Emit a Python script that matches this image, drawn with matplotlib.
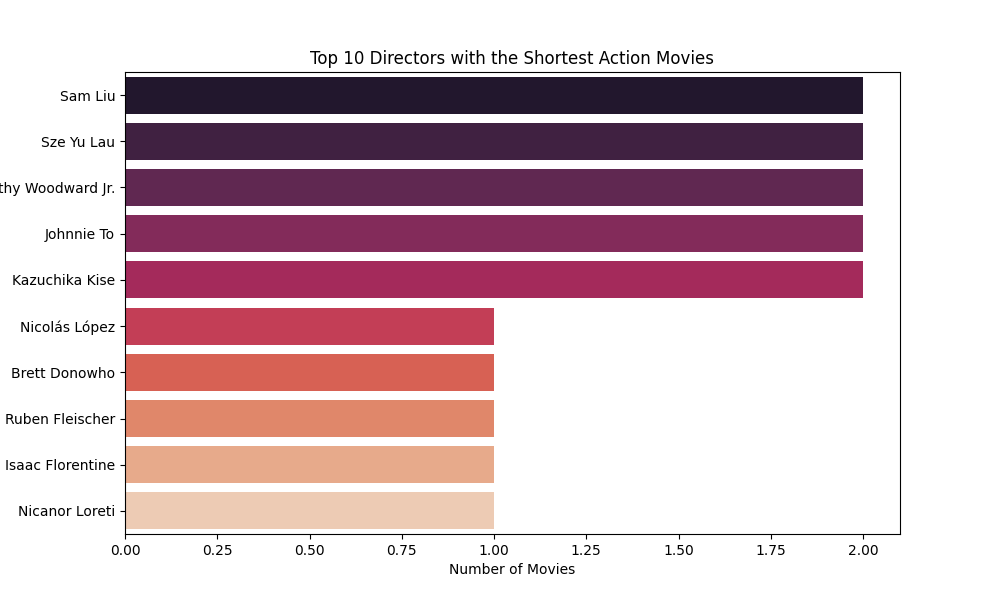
import matplotlib
matplotlib.use("Agg")
import matplotlib.pyplot as plt
import seaborn as sns

directors = ["Sam Liu", "Sze Yu Lau", "Timothy Woodward Jr.", "Johnnie To", "Kazuchika Kise",
             "Nicolás López", "Brett Donowho", "Ruben Fleischer", "Isaac Florentine", "Nicanor Loreti"]
movie_counts = [2, 2, 2, 2, 2, 1, 1, 1, 1, 1]

fig, ax = plt.subplots(figsize=(10, 6), dpi=100)
sns.barplot(x=movie_counts, y=directors, hue=directors, palette="rocket", legend=False, ax=ax, orient="h")
ax.set_title("Top 10 Directors with the Shortest Action Movies")
ax.set_xlabel("Number of Movies")
ax.set_ylabel("")
fig.savefig("out.png")
